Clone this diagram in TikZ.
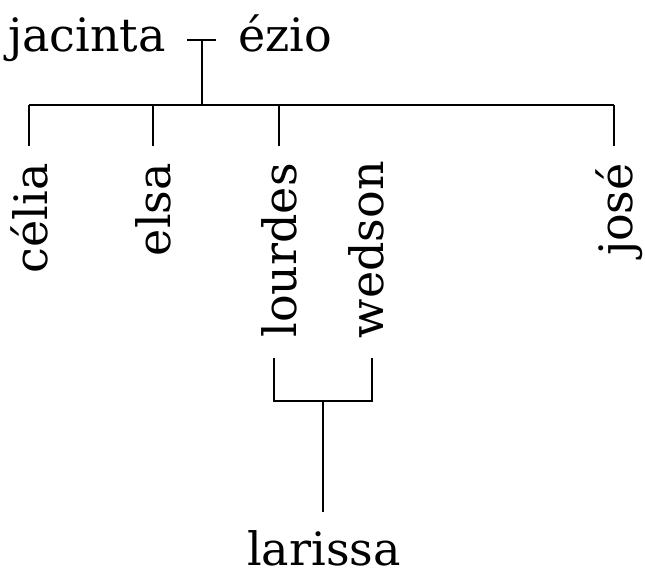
\documentclass[tikz,border=0pt]{standalone}
\usepackage{fontspec}
\setmainfont{DejaVu Serif}
\begin{document}
\begin{tikzpicture}[x=1pt,y=-1pt,
  person/.style={inner sep=0pt, font=\fontsize{46}{54}\selectfont},
  vperson/.style={person, rotate=90, anchor=base east},
  link/.style={line width=2pt, black}]
\useasboundingbox (0,0) rectangle (645,578);
% parents
\node[person, anchor=base west] (jacinta) at (8,52) {jacinta};
\node[person, anchor=base west] (ezio) at (238,52) {ézio};
\coordinate (mL) at (187,40);
\coordinate (mR) at (216,40);
\coordinate (m) at (202,40);
\coordinate (bar) at (202,105);
\draw[link] (mL) -- (mR);
\draw[link] (m) -- (bar);
% children bar
\coordinate (b1) at (29,105);
\coordinate (b5) at (614,105);
\draw[link] (b1) -- (b5);
% children
\node[vperson] (celia) at (47,163) {célia};
\node[vperson] (elsa) at (170,163) {elsa};
\node[vperson] (lourdes) at (296,163) {lourdes};
\node[vperson] (wedson) at (383,161) {wedson};
\node[vperson] (jose) at (632,163) {josé};
\coordinate (c1) at (29,146);
\coordinate (c2) at (153,146);
\coordinate (c3) at (279,146);
\coordinate (c5) at (614,146);
\coordinate (t2) at (153,105);
\coordinate (t3) at (279,105);
\draw[link] (b1) -- (c1);
\draw[link] (t2) -- (c2);
\draw[link] (t3) -- (c3);
\draw[link] (b5) -- (c5);
% couple lourdes - wedson
\coordinate (lA) at (274,358);
\coordinate (lB) at (274,401);
\coordinate (wA) at (372,358);
\coordinate (wB) at (372,401);
\coordinate (cm) at (323,401);
\coordinate (cd) at (323,512);
\draw[link] (lA) -- (lB) -- (wB) -- (wA);
\draw[link] (cm) -- (cd);
\node[person, anchor=base] (larissa) at (324,565) {larissa};
\end{tikzpicture}
\end{document}
